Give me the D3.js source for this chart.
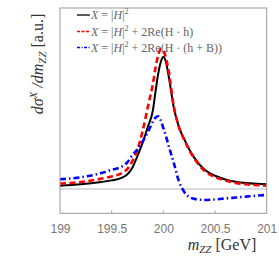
<!DOCTYPE html>
<html>
<head>
<meta charset="utf-8">
<script src="https://cdn.jsdelivr.net/npm/d3@7"></script>
<style>
  body { margin: 0; background: #fff; }
  svg { display: block; }
  .tick_lab { font-family: "Liberation Sans", Arial, sans-serif; font-size: 12px; fill: #777; }
  .serif { font-family: "Liberation Serif", "DejaVu Serif", serif; }
</style>
</head>
<body>
<div id="chart"></div>
<script>
// datos
var mzz = [199, 199.2, 199.4, 199.5, 199.6, 199.65, 199.7, 199.75, 199.8, 199.85,
	199.9, 199.925, 199.95, 199.975, 200, 200.025, 200.05, 200.1, 200.15, 200.2,
	200.25, 200.3, 200.4, 200.5, 200.6, 200.7, 200.8, 200.9, 201];

var h_sq = [0.025, 0.035, 0.053, 0.065, 0.085, 0.11, 0.16, 0.25, 0.35, 0.47,
	0.60, 0.74, 0.87, 0.96, 1.0, 0.96, 0.86, 0.62, 0.47, 0.38,
	0.30, 0.235, 0.145, 0.10, 0.072, 0.055, 0.045, 0.039, 0.035];

var h_re_h = [0.040, 0.052, 0.078, 0.095, 0.12, 0.15, 0.21, 0.30, 0.44, 0.62,
	0.80, 0.92, 1.01, 1.06, 1.05, 0.99, 0.90, 0.63, 0.47, 0.375,
	0.295, 0.23, 0.135, 0.09, 0.064, 0.046, 0.035, 0.029, 0.025];

var h_re_hb = [0.073, 0.088, 0.12, 0.145, 0.17, 0.20, 0.255, 0.30, 0.36, 0.43,
	0.51, 0.54, 0.55, 0.52, 0.46, 0.40, 0.33, 0.20, 0.06, -0.02,
	-0.06, -0.075, -0.083, -0.079, -0.072, -0.065, -0.058, -0.051, -0.045];

var x_ticks = [199, 199.5, 200, 200.5, 201];
var x_tick_labels = ["199", "199.5", "200", "200.5", "201"];

// variables globales
var svg_w = 279;
var svg_h = 261;
var left = 60, top_ = 8, right = 266.7, bottom = 213.3;

var svg = d3.select("#chart")
	.append("svg")
	.attr("width", svg_w)
	.attr("height", svg_h);

// escalas
var x_scale = d3.scaleLinear()
	.domain([199, 201])
	.range([left, right]);

var y_scale = d3.scaleLinear()
	.domain([-0.184, 1.368])
	.range([bottom, top_]);

// linea del cero
svg.append("line")
	.attr("x1", x_scale(199))
	.attr("x2", x_scale(201))
	.attr("y1", y_scale(0))
	.attr("y2", y_scale(0))
	.attr("stroke", "#cfcfcf")
	.attr("stroke-width", 1.5);

// curvas
var series = [
	{vals: h_sq, color: "#000", width: 2, dash: null, leg_dash: null},
	{vals: h_re_h, color: "#f00", width: 2.6, dash: "6,3.5", leg_dash: "3,1.5"},
	{vals: h_re_hb, color: "#00f", width: 2.6, dash: "6,3,1.5,3", leg_dash: "3,1.5,1,1.5"}
];

var line = d3.line()
	.x(function(d) { return x_scale(d[0]); })
	.y(function(d) { return y_scale(d[1]); })
	.curve(d3.curveMonotoneX);

series.forEach(function(s) {
	var pts = mzz.map(function(m, i) { return [m, s.vals[i]]; });
	svg.append("path")
		.attr("d", line(pts))
		.attr("fill", "none")
		.attr("stroke", s.color)
		.attr("stroke-width", s.width)
		.attr("stroke-dasharray", s.dash);
});

// marco
svg.append("rect")
	.attr("x", left)
	.attr("y", top_)
	.attr("width", right - left)
	.attr("height", bottom - top_)
	.attr("fill", "none")
	.attr("stroke", "#999")
	.attr("stroke-width", 1);

// eje x
var x_axis = d3.axisBottom(x_scale)
	.tickValues(x_ticks)
	.tickSize(0)
	.tickFormat(function(d, i) { return x_tick_labels[i]; });

var gx = svg.append("g")
	.attr("transform", "translate(0," + bottom + ")")
	.call(x_axis);
gx.select(".domain").remove();
gx.selectAll("text")
	.attr("class", "tick_lab")
	.attr("fill", null)
	.attr("y", 20)
	.attr("dy", 0);

// marcas pequenas hacia adentro
svg.selectAll(".minor")
	.data(x_ticks.slice(1, 4))
	.enter()
	.append("line")
	.attr("x1", function(d) { return x_scale(d); })
	.attr("x2", function(d) { return x_scale(d); })
	.attr("y1", bottom)
	.attr("y2", bottom - 3)
	.attr("stroke", "#aaa");

// titulo eje x
var xl = svg.append("text")
	.attr("class", "serif")
	.attr("x", 222)
	.attr("y", 250)
	.attr("text-anchor", "middle")
	.attr("font-size", 16)
	.attr("fill", "#333");
xl.append("tspan").attr("font-style", "italic").text("m");
xl.append("tspan").attr("font-style", "italic").attr("font-size", 11).attr("dy", 3).text("ZZ");
xl.append("tspan").attr("dy", -3).text(" [GeV]");

// titulo eje y
var yl = svg.append("text")
	.attr("class", "serif")
	.attr("transform", "translate(43,64) rotate(-90)")
	.attr("text-anchor", "middle")
	.attr("font-size", 16)
	.attr("fill", "#333");
yl.append("tspan").attr("font-style", "italic").text("dσ");
yl.append("tspan").attr("font-style", "italic").attr("font-size", 11).attr("dy", -6).text("X");
yl.append("tspan").attr("font-style", "italic").attr("dy", 6).text(" /dm");
yl.append("tspan").attr("font-style", "italic").attr("font-size", 11).attr("dy", 3).text("ZZ");
yl.append("tspan").attr("dy", -3).text(" [a.u.]");

// leyenda
var legend_y = [15, 31.5, 47.5];
var leg = svg.append("g").attr("class", "serif");

series.forEach(function(s, i) {
	leg.append("line")
		.attr("x1", 77)
		.attr("x2", 90)
		.attr("y1", legend_y[i])
		.attr("y2", legend_y[i])
		.attr("stroke", s.color)
		.attr("stroke-width", 1.3)
		.attr("stroke-dasharray", s.leg_dash);

	var t = leg.append("text")
		.attr("x", 91)
		.attr("y", legend_y[i] + 4)
		.attr("font-size", 12)
		.attr("fill", "#666");
	t.append("tspan").attr("font-style", "italic").text("X");
	t.append("tspan").text(" = |");
	t.append("tspan").attr("font-style", "italic").text("H");
	t.append("tspan").text("|");
	t.append("tspan").attr("font-size", 8).attr("dy", -5).text("2");
	if (i == 1) t.append("tspan").attr("dy", 5).text(" + 2Re(H · h)");
	if (i == 2) t.append("tspan").attr("dy", 5).text(" + 2Re(H · (h + B))");
});
</script>
</body>
</html>
